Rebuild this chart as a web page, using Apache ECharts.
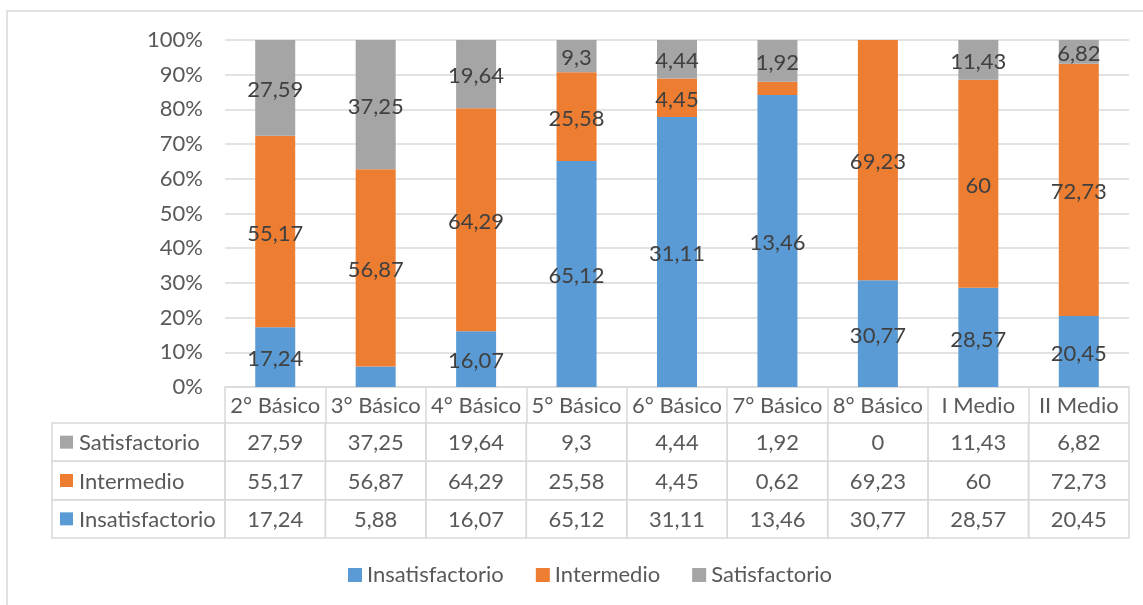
<!DOCTYPE html>
<html>
<head>
<meta charset="utf-8">
<script src="https://cdn.jsdelivr.net/npm/echarts@6/dist/echarts.min.js"></script>
<style>html,body{margin:0;padding:0;background:#fff}#c{width:1143px;height:605px}</style>
</head>
<body>
<div id="c"></div>
<script>
var categories = ['2° Básico','3° Básico','4° Básico','5° Básico','6° Básico','7° Básico','8° Básico','I Medio','II Medio'];
var insatisfactorio = [17.24, 5.88, 16.07, 65.12, 31.11, 13.46, 30.77, 28.57, 20.45];
var intermedio = [55.17, 56.87, 64.29, 25.58, 4.45, 0.62, 69.23, 60, 72.73];
var satisfactorio = [27.59, 37.25, 19.64, 9.3, 4.44, 1.92, 0, 11.43, 6.82];
var seriesNames = ['Insatisfactorio','Intermedio','Satisfactorio'];
var colors = ['#5b9bd5','#ed7d31','#a5a5a5'];
var yTicks = [0,10,20,30,40,50,60,70,80,90,100];

var FONT = 'Lato';
var FS = 22;
var allSeries = [insatisfactorio, intermedio, satisfactorio];
var totals = categories.map(function(_, i){ return insatisfactorio[i] + intermedio[i] + satisfactorio[i]; });
function fmt(v){ return String(v).replace('.', ','); }

var barSeries = allSeries.map(function(arr, s){
  return {
    name: seriesNames[s], type: 'bar', stack: 'total', barWidth: 40,
    xAxisIndex: 0, yAxisIndex: 0,
    itemStyle: {color: colors[s]},
    label: {show: true, position: 'inside', color: '#404040', fontSize: FS, fontFamily: FONT,
      offset: [0, 2],
      formatter: function(p){ return fmt(p.data.raw); }},
    data: arr.map(function(v, i){
      var pct = v / totals[i] * 100;
      return {value: pct, raw: v, label: {show: pct >= 6}};
    })
  };
});

var tableData = [];
allSeries.forEach(function(arr, s){
  arr.forEach(function(v, i){ tableData.push([i, s, v]); });
});

var tableSeries = {
  type: 'custom', xAxisIndex: 1, yAxisIndex: 1, clip: false, silent: true,
  data: tableData,
  renderItem: function(params, api){
    var col = api.value(0), row = api.value(1), v = api.value(2);
    var c = api.coord([col, row]);
    var sz = api.size([1, 1]);
    var x0 = c[0] - sz[0]/2, y0 = c[1] - sz[1]/2;
    var children = [
      {type: 'rect', shape: {x: x0, y: y0, width: sz[0], height: sz[1]},
       style: {fill: 'none', stroke: '#d9d9d9', lineWidth: 1.5}},
      {type: 'text', style: {text: fmt(v), x: c[0], y: c[1] + 1, align: 'center', verticalAlign: 'middle',
        fontSize: FS, fontFamily: FONT, fill: '#595959'}}
    ];
    if (col === 0) {
      children.push(
        {type: 'rect', shape: {x: 52, y: y0, width: x0 - 52, height: sz[1]},
         style: {fill: 'none', stroke: '#d9d9d9', lineWidth: 1.5}},
        {type: 'rect', shape: {x: 60, y: c[1] - 6.5, width: 13, height: 13},
         style: {fill: colors[row]}},
        {type: 'text', style: {text: seriesNames[row], x: 79, y: c[1] + 1, align: 'left', verticalAlign: 'middle',
          fontSize: FS, fontFamily: FONT, fill: '#595959'}}
      );
    }
    return {type: 'group', children: children};
  }
};

var chart = echarts.init(document.getElementById('c'), null, {renderer: 'canvas'});
chart.setOption({
  animation: false,
  backgroundColor: '#fff',
  textStyle: {fontFamily: FONT},
  graphic: [{type: 'rect', shape: {x: 7, y: 11, width: 1300, height: 800},
    style: {fill: 'none', stroke: '#d9d9d9', lineWidth: 1.5}, z: -10, silent: true}],
  legend: {
    data: seriesNames, bottom: 14, left: 343, icon: 'rect', itemWidth: 14, itemHeight: 14,
    itemGap: 32, textStyle: {fontSize: FS, color: '#595959', fontFamily: FONT}
  },
  grid: [
    {left: 225, right: 14, top: 40, height: 347},
    {left: 225, right: 14, top: 423, height: 115}
  ],
  xAxis: [
    {type: 'category', gridIndex: 0, data: categories, boundaryGap: true,
     axisLine: {lineStyle: {color: '#d9d9d9', width: 1.5}},
     axisTick: {show: true, length: 36, lineStyle: {color: '#d9d9d9', width: 1.5}},
     axisLabel: {color: '#595959', fontSize: FS, fontFamily: FONT, margin: 8, interval: 0}},
    {type: 'category', gridIndex: 1, data: categories, show: false}
  ],
  yAxis: [
    {type: 'value', gridIndex: 0, min: 0, max: 100, interval: 10,
     axisLine: {show: false}, axisTick: {show: false},
     splitLine: {lineStyle: {color: '#d9d9d9', width: 1.5}},
     axisLabel: {formatter: function(v){ return yTicks.indexOf(v) >= 0 ? v + '%' : ''; },
       color: '#595959', fontSize: FS, fontFamily: FONT, margin: 22}},
    {type: 'category', gridIndex: 1, data: seriesNames, show: false}
  ],
  series: barSeries.concat([tableSeries])
});
</script>
</body>
</html>
